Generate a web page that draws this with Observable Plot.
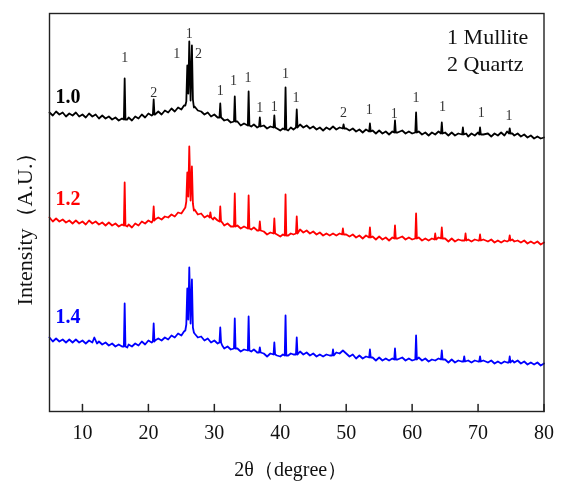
<!DOCTYPE html>
<html><head><meta charset="utf-8">
<script src="https://cdn.jsdelivr.net/npm/d3@7"></script>
<script src="https://cdn.jsdelivr.net/npm/@observablehq/plot@0.6"></script>
<style>
html,body{margin:0;padding:0;background:#fff;overflow:hidden}
#chart { will-change: transform; }
#chart svg, #chart svg text { font-family: "Liberation Serif", "DejaVu Serif", serif !important; }
</style>
</head><body><div id="chart"></div>
<script>
// ---------- data (2θ in degrees, intensity in arbitrary units) ----------
const xTicks = [10, 20, 30, 40, 50, 60, 70, 80];
const sampleNames = ["1.0", "1.2", "1.4"];
const sampleColors = ["#000000", "#ff0000", "#0000ff"];

// background points [2θ, intensity]
const base10 = [[5.0,299],[5.5,296],[6.0,300],[6.5,297],[7.0,299],[7.5,295],[8.0,298],[8.5,296],[9.0,299],[9.5,295],[10.0,297],[10.5,294],[11.0,298],[11.5,295],[12.0,297],[12.5,293],[13.0,296],[13.5,293],[14.0,295],[14.5,292],[15.0,294],[15.5,291],[16.0,293],[16.8,292],[17.0,294],[17.5,291],[18.0,295],[18.5,293],[19.0,297],[19.5,294],[20.0,298],[20.5,296],[21.0,297],[21.5,300],[22.0,297],[22.5,301],[23.0,299],[23.5,303],[24.0,300],[24.5,304],[25.0,302],[25.4,306],[27.0,305],[27.5,301],[28.0,300],[28.5,297],[29.0,299],[29.5,295],[30.0,297],[30.5,294],[31.2,293],[31.5,291],[32.0,292],[32.5,289],[33.5,290],[34.0,286],[34.5,288],[35.6,285],[36.0,287],[36.5,284],[37.5,286],[38.0,283],[38.5,285],[39.5,283],[40.0,281],[40.4,283],[41.2,281],[41.6,284],[42.0,282],[43.0,287],[43.5,284],[44.0,286],[44.5,283],[45.0,285],[45.5,282],[46.0,284],[46.5,281],[47.0,284],[47.5,282],[48.0,285],[48.5,282],[49.0,284],[50.0,283],[50.5,281],[51.0,283],[51.5,280],[52.0,282],[52.5,279],[53.0,282],[54.0,281],[54.5,278],[55.0,281],[55.5,278],[56.0,280],[56.5,277],[57.0,280],[57.8,279],[58.5,281],[59.0,278],[59.5,280],[60.0,278],[61.0,280],[61.5,277],[62.0,279],[62.5,276],[63.0,279],[63.5,277],[64.0,280],[65.0,279],[65.5,276],[66.0,279],[66.5,276],[67.0,278],[68.2,278],[68.5,275],[69.0,278],[69.5,276],[70.0,279],[70.8,277],[71.5,278],[72.0,275],[72.5,278],[73.0,276],[73.5,279],[74.0,276],[74.4,280],[75.2,278],[75.5,276],[76.0,278],[76.5,275],[77.0,277],[77.5,274],[78.0,276],[78.5,273],[79.0,275],[79.5,273],[80.0,274]];
const base12 = [[5.0,194],[5.5,190],[6.0,193],[6.5,190],[7.0,192],[7.5,189],[8.0,191],[8.5,188],[9.0,191],[9.5,188],[10.0,190],[10.5,187],[11.0,191],[11.5,188],[12.0,190],[12.5,187],[13.0,189],[13.5,186],[14.0,189],[14.5,186],[15.0,188],[15.5,185],[16.0,187],[16.8,185],[17.0,187],[17.5,184],[18.0,188],[18.5,186],[19.0,190],[19.5,188],[20.0,191],[20.5,189],[21.0,192],[21.5,194],[22.0,192],[22.5,195],[23.0,194],[23.5,197],[24.0,195],[24.5,199],[25.0,198],[25.4,202],[27.0,202],[27.5,197],[28.0,198],[28.5,194],[29.0,196],[29.8,192],[30.0,194],[30.5,191],[31.2,189],[31.5,186],[32.0,188],[32.5,185],[33.5,186],[34.0,183],[34.5,185],[35.6,182],[36.0,184],[36.5,181],[37.5,180],[38.0,177],[38.5,179],[39.5,177],[40.0,175],[40.4,177],[41.2,176],[41.6,178],[42.0,177],[43.0,182],[43.5,179],[44.0,181],[44.5,178],[45.0,180],[45.5,177],[46.0,179],[46.5,176],[47.0,178],[47.5,176],[48.0,178],[48.5,176],[49.0,178],[50.0,177],[50.5,175],[51.0,177],[51.5,174],[52.0,176],[52.5,173],[53.0,176],[54.0,175],[54.5,172],[55.0,175],[55.5,172],[56.0,174],[56.5,171],[57.0,174],[57.8,173],[58.5,175],[59.0,172],[59.5,174],[60.0,172],[61.0,174],[61.5,171],[62.0,173],[62.5,171],[63.0,173],[64.0,174],[65.0,173],[65.5,170],[66.0,173],[66.5,170],[67.0,172],[67.5,171],[68.5,172],[69.0,170],[69.5,172],[70.0,171],[70.8,172],[71.5,170],[72.0,172],[72.5,169],[73.0,171],[73.5,169],[74.0,171],[74.4,170],[75.2,172],[75.5,170],[76.0,171],[76.5,169],[77.0,171],[77.5,168],[78.0,170],[78.5,168],[79.0,170],[79.5,167],[80.0,169]];
const base14 = [[5.0,74],[5.5,70],[6.0,73],[6.5,70],[7.0,72],[7.5,69],[8.0,72],[8.5,69],[9.0,72],[9.5,69],[10.0,71],[10.5,68],[11.0,71],[11.5,69],[11.8,74],[12.2,68],[12.5,70],[13.0,67],[13.5,69],[14.0,66],[14.5,68],[15.0,65],[15.5,67],[16.0,65],[16.8,64],[17.0,67],[17.5,65],[18.0,68],[18.5,66],[19.0,70],[19.5,67],[20.0,71],[20.5,69],[21.0,71],[21.5,73],[22.0,71],[22.5,74],[23.0,72],[23.5,76],[24.0,74],[24.5,78],[25.0,76],[25.4,80],[27.0,78],[27.5,74],[28.0,75],[28.5,71],[29.0,73],[29.5,69],[30.0,71],[30.5,68],[31.2,66],[31.5,63],[32.0,65],[32.5,62],[33.5,63],[34.0,60],[34.5,62],[35.6,60],[36.0,62],[36.5,59],[37.5,58],[38.0,55],[38.5,58],[39.5,56],[40.0,55],[40.4,57],[41.2,56],[41.6,58],[42.0,57],[43.0,60],[43.5,57],[44.0,59],[44.5,56],[45.0,58],[45.5,55],[46.0,57],[46.5,55],[47.0,57],[47.5,56],[48.5,59],[49.0,58],[49.5,61],[50.0,58],[50.5,55],[51.0,57],[51.5,53],[52.0,56],[52.5,53],[53.0,55],[54.0,54],[54.5,51],[55.0,54],[55.5,51],[56.0,53],[56.5,51],[57.0,53],[57.8,52],[58.5,54],[59.0,51],[59.5,53],[60.0,51],[61.0,54],[61.5,51],[62.0,53],[62.5,50],[63.0,52],[63.5,51],[64.0,53],[65.0,52],[65.5,49],[66.0,52],[66.5,49],[67.0,51],[67.5,50],[68.5,51],[69.0,49],[69.5,51],[70.0,50],[70.8,51],[71.5,49],[72.0,51],[72.5,48],[73.0,50],[73.5,48],[74.0,50],[74.4,49],[75.2,51],[75.5,49],[76.0,51],[76.5,48],[77.0,50],[77.5,47],[78.0,49],[78.5,47],[79.0,49],[79.5,46],[80.0,48]];

// narrow peaks [2θ, peak top, foot level]
const peaks10 = [[16.4,333,292],[20.8,312,297],[30.9,308,294],[33.1,315,290],[35.2,320,286],[36.9,294,285],[39.1,296,284],[40.8,324,282],[42.5,302,284],[49.6,287,283],[53.6,288,280],[57.4,291,279],[60.6,299,279],[64.5,289,278],[67.7,284,277],[70.3,284,277],[74.8,283,278]];
const peaks12 = [[16.4,229,186],[20.8,205,191],[29.4,199,194],[30.9,205,190],[33.1,218,185],[35.2,216,183],[36.9,190,181],[39.1,193,178],[40.8,217,176],[42.5,195,178],[49.5,183,177],[53.6,184,174],[57.4,186,173],[60.6,198,173],[63.5,178,172],[64.5,184,173],[68.1,178,171],[70.3,177,171],[74.8,176,171]];
const peaks14 = [[16.4,108,65],[20.8,88,70],[30.9,84,69],[33.1,93,63],[35.2,95,61],[36.9,64,59],[39.1,69,57],[40.8,96,56],[42.5,74,57],[48.0,62,56],[53.6,62,54],[57.4,63,52],[60.6,76,52],[64.5,61,52],[67.9,55,50],[70.3,55,50],[74.8,55,49]];

// main quartz/mullite cluster near 26°
const cluster10 = [[25.6,306],[25.75,310],[25.9,346],[26.05,318],[26.2,370],[26.4,311],[26.6,366],[26.75,312],[26.9,304]];
const cluster12 = [[25.6,204],[25.75,210],[25.9,239],[26.05,215],[26.2,265],[26.4,211],[26.6,245],[26.75,208],[26.9,201]];
const cluster14 = [[25.6,81],[25.75,87],[25.9,123],[26.05,92],[26.2,144],[26.4,88],[26.6,132],[26.75,84],[26.9,79]];

// phase marks above the 1.0 pattern [2θ, height, phase]
const phaseMarks = [[16.4,354,"1"],[20.8,319,"2"],[24.3,358,"1"],[26.2,378,"1"],[27.6,358,"2"],[30.9,321,"1"],[32.9,331,"1"],[35.1,334,"1"],[36.9,304,"1"],[39.1,305,"1"],[40.8,338,"1"],[42.4,314,"1"],[49.6,299,"2"],[53.5,302,"1"],[57.3,298,"1"],[60.6,314,"1"],[64.6,305,"1"],[70.5,299,"1"],[74.7,296,"1"]];
const legendLines = ["1 Mullite", "2 Quartz"];
const xLabel = "2θ（degree）";
const yLabel = "Intensity（A.U.）";

// ---------- build ----------
const W = 0.12;
function build(base, peaks, cluster) {
  const pts = base.map(([x, y]) => ({x, y}));
  for (const [x, top, foot] of peaks) {
    pts.push({x: x - W, y: foot}, {x, y: top}, {x: x + W, y: foot});
  }
  for (const [x, y] of cluster) pts.push({x, y});
  return pts.sort((a, b) => a.x - b.x);
}
const series = [build(base10, peaks10, cluster10), build(base12, peaks12, cluster12), build(base14, peaks14, cluster14)];
const nameY = [315.4, 213.4, 95];
const nameData = sampleNames.map((t, i) => ({t, y: nameY[i], c: sampleColors[i]}));
const legendData = legendLines.map((t, i) => ({t, y: [374.7, 347.7][i]}));
const marks = phaseMarks.map(([x, y, t]) => ({x, y, t}));
const tickLen = 7; // inward tick length in y units (1 unit = 1 px)
const tickSegs = xTicks.flatMap(t => [{x: t, y: 0, k: t}, {x: t, y: tickLen, k: t}]);

const serif = "Liberation Serif, DejaVu Serif, serif";

const chart = Plot.plot({
  width: 568, height: 493,
  marginTop: 13, marginBottom: 82, marginLeft: 49, marginRight: 24.5,
  style: {fontFamily: serif, fontSize: "20px", background: "#fff", color: "#111"},
  x: {domain: [5, 80]},
  y: {domain: [0, 398], axis: null},
  marks: [
    ...series.map((d, i) => Plot.line(d, {x: "x", y: "y", stroke: sampleColors[i], strokeWidth: 1.8, strokeLinejoin: "round"})),
    Plot.frame({stroke: "#222", strokeWidth: 1.4}),
    Plot.line(tickSegs, {x: "x", y: "y", z: "k", stroke: "#222", strokeWidth: 1.5}),
    Plot.axisX({ticks: xTicks, tickSize: 0, tickPadding: 13, label: null, fontSize: 20, fill: "#111"}),
    Plot.text(marks, {x: "x", y: "y", text: "t", fontSize: 14, fill: "#333", lineAnchor: "middle"}),
    Plot.text(nameData, {x: 7.8, y: "y", text: "t", fill: "c", fontSize: 20, fontWeight: "bold", lineAnchor: "middle"}),
    Plot.text(legendData, {x: 65.3, y: "y", text: "t", fontSize: 22, textAnchor: "start", lineAnchor: "middle", fill: "#111"}),
    Plot.text([xLabel], {frameAnchor: "bottom", textAnchor: "middle", dx: -6, dy: 57.6, fontSize: 20, lineAnchor: "middle", fill: "#111"}),
    Plot.text([yLabel], {frameAnchor: "left", textAnchor: "middle", dx: -24.2, dy: 11, rotate: -90, fontSize: 22, lineAnchor: "middle", fill: "#111"})
  ]
});
document.getElementById("chart").appendChild(chart);
</script>
</body></html>
